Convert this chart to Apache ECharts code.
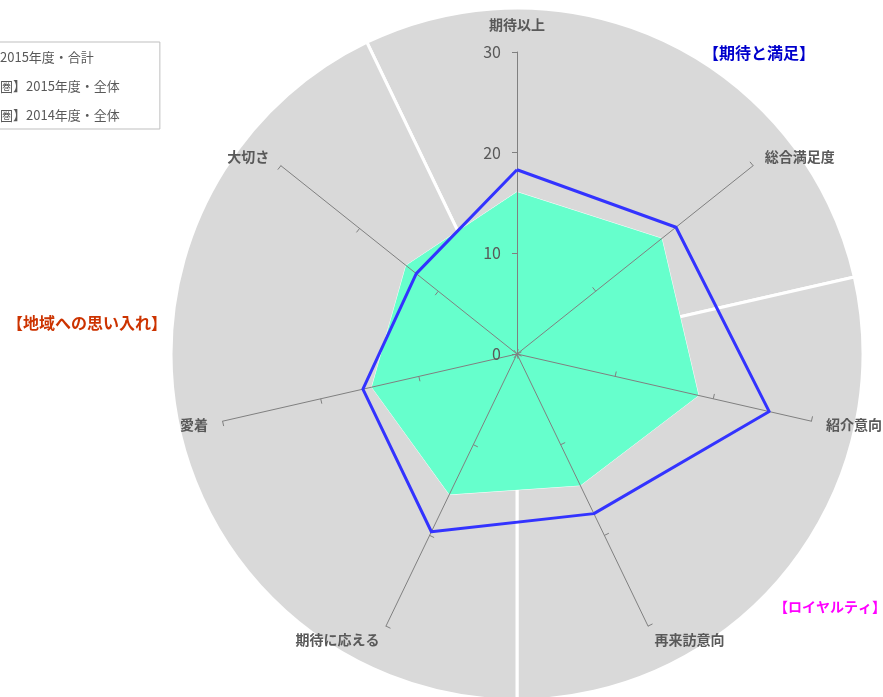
<!DOCTYPE html>
<html lang="ja">
<head>
<meta charset="utf-8">
<title>レーダーチャート</title>
<style>
  html, body { margin: 0; padding: 0; background: #fff; }
  #chart { width: 883px; height: 697px; }
</style>
</head>
<body>
<div id="chart"></div>
<script src="https://cdn.jsdelivr.net/npm/echarts@6/dist/echarts.min.js"></script>
<script>
// 指標（上から時計回り）
var indicatorNames = ['期待以上', '総合満足度', '紹介意向', '再来訪意向', '期待に応える', '愛着', '大切さ'];
// 系列
var seriesNames = ['【県】2015年度・合計', '【首都圏】2015年度・全体', '【首都圏】2014年度・全体'];
var total2015 = [16.1, 18.4, 18.5, 14.5, 15.5, 14.8, 14.1];
var area2015 = [18.3, 20.2, 25.7, 17.6, 19.6, 15.7, 12.8];
var area2014 = [];
// 目盛
var axisMin = 0, axisMax = 30, axisStep = 10;
// グループ（背景の扇形）
var groupNames = ['【期待と満足】', '【ロイヤルティ】', '【地域への思い入れ】'];
var groupSizes = [2, 2, 3];
var groupColors = ['#0000CC', '#FF00FF', '#CC3300'];

var fontFamily = '"Noto Sans CJK JP", "Noto Sans", sans-serif';
var n = indicatorNames.length;
var center = [517, 354];

// echartsのレーダーは反時計回りなので並べ替える
var order = [0];
for (var i = n - 1; i >= 1; i--) order.push(i);
function reorder(arr) {
  return order.map(function (k) { return arr[k]; });
}

var indicators = order.map(function (k, idx) {
  var ind = { name: indicatorNames[k], min: axisMin, max: axisMax };
  if (idx === 0) {
    // 目盛ラベルは一番上の軸だけ
    ind.axisLabel = { show: true };
    ind.nameGap = 20;
  }
  return ind;
});

// 背景の扇形：最初の区切りは「大切さ」と「期待以上」の間
var step = 360 / n;
var pieStart = 90 + step / 2;

var myChart = echarts.init(document.getElementById('chart'));
myChart.setOption({
  animation: false,
  textStyle: { fontFamily: fontFamily },
  legend: {
    orient: 'vertical',
    left: -74,
    top: 42,
    itemWidth: 25,
    itemHeight: 14,
    itemGap: 15,
    padding: [8, 40, 7, 5],
    borderColor: '#BFBFBF',
    borderWidth: 1,
    data: seriesNames,
    textStyle: { fontSize: 13, color: '#595959', fontFamily: fontFamily }
  },
  radar: {
    center: center,
    radius: 302,
    startAngle: 90,
    shape: 'polygon',
    splitNumber: (axisMax - axisMin) / axisStep,
    z: 3,
    nameGap: 15,
    axisName: {
      color: '#595959',
      fontSize: 14,
      fontWeight: 'bold',
      fontFamily: fontFamily
    },
    axisLine: { lineStyle: { color: '#808080', width: 1 } },
    axisTick: { show: true, length: 5, lineStyle: { color: '#808080' } },
    axisLabel: { show: false, color: '#595959', fontSize: 16, margin: 16, fontFamily: fontFamily },
    splitLine: { show: false },
    splitArea: { show: false },
    indicator: indicators
  },
  graphic: groupNames.map(function (g, i) {
    var pos = [[759, 53], [830, 607], [87, 323]][i];
    var size = [16, 14, 16][i];
    return {
      type: 'text',
      x: pos[0],
      y: pos[1],
      z: 10,
      style: {
        text: g,
        fill: groupColors[i],
        font: 'bold ' + size + 'px ' + fontFamily,
        textAlign: 'center',
        textVerticalAlign: 'middle'
      }
    };
  }),
  series: [
    {
      type: 'pie',
      z: 1,
      silent: true,
      center: center,
      radius: 346,
      startAngle: pieStart,
      clockwise: true,
      label: { show: false },
      labelLine: { show: false },
      itemStyle: { color: '#D9D9D9', borderColor: '#FFFFFF', borderWidth: 3 },
      data: groupNames.map(function (g, i) { return { name: g, value: groupSizes[i] }; })
    },
    {
      type: 'radar',
      name: seriesNames[0],
      z: 2,
      symbol: 'none',
      lineStyle: { color: '#FFFFFF', width: 1 },
      itemStyle: { color: '#66FFCC' },
      areaStyle: { color: '#66FFCC', opacity: 1 },
      data: [{ name: seriesNames[0], value: reorder(total2015) }]
    },
    {
      type: 'radar',
      name: seriesNames[1],
      z: 4,
      symbol: 'none',
      lineStyle: { color: '#3333FF', width: 3 },
      itemStyle: { color: '#3333FF' },
      data: [{ name: seriesNames[1], value: reorder(area2015) }]
    },
    {
      type: 'radar',
      name: seriesNames[2],
      z: 4,
      symbol: 'none',
      lineStyle: { color: '#A5A5A5', width: 2 },
      itemStyle: { color: '#A5A5A5' },
      data: area2014
    }
  ]
});
</script>
</body>
</html>
